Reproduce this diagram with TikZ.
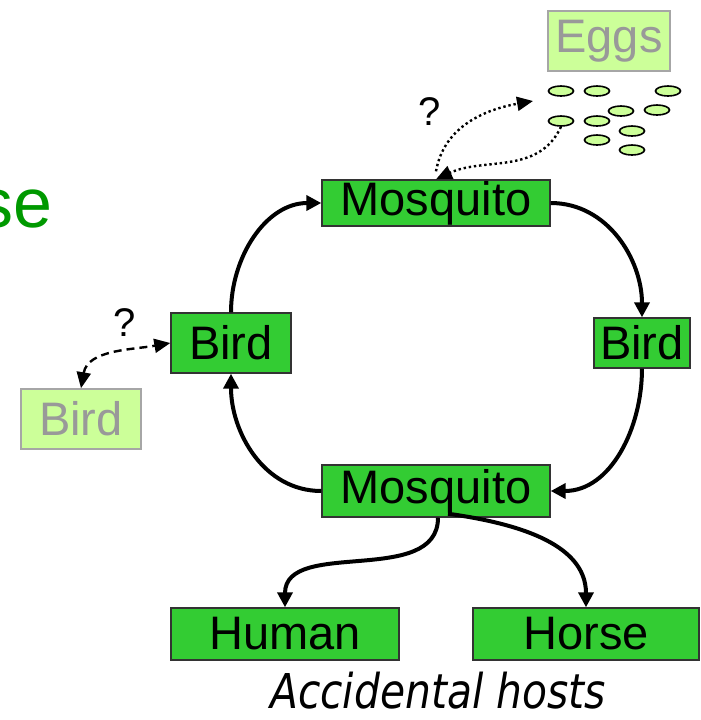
\documentclass[tikz,border=0pt]{standalone}
\usepackage{fontspec}
\setmainfont{Liberation Sans}
\newfontfamily\hostfont{DejaVu Sans}
\usepackage{tikz}
\usetikzlibrary{arrows.meta}
\usetikzlibrary{shapes.geometric}
\definecolor{hostgreen}{RGB}{51,204,51}
\definecolor{palegreen}{RGB}{204,255,153}
\definecolor{titlegreen}{RGB}{0,153,0}
\tikzstyle{host}=[draw=black!80,fill=hostgreen,line width=0.7pt,inner sep=0pt,font=\fontsize{23.5}{28}\selectfont]
\tikzstyle{ghost}=[draw=black!35,fill=palegreen,line width=0.8pt,inner sep=0pt,text=black!40,font=\fontsize{23.5}{28}\selectfont]
\tikzstyle{egg}=[draw=black,fill=palegreen,line width=0.8pt,ellipse,inner sep=0pt,minimum width=12.5pt,minimum height=5pt]
\tikzstyle{cycle}=[line width=2pt,-{Triangle[length=7.5pt,width=7.5pt]}]
\tikzstyle{maybe}=[line width=1.2pt,-{Triangle[length=8pt,width=7pt]}]

\begin{document}
\begin{tikzpicture}[x=0.5pt,y=-0.5pt]
  \useasboundingbox (0,0) rectangle (701,720);
  % title remnant
  \node[text=titlegreen,anchor=base east,inner sep=0pt,font=\fontsize{35}{40}\selectfont] (title) at (53,227) {se};
  % hosts of the cycle
  \node[host,minimum width=114pt,minimum height=23pt] (mosqT) at (436,203) {Mosquito};
  \node[host,minimum width=48pt,minimum height=25pt] (birdR) at (642,343) {Bird};
  \node[host,minimum width=60pt,minimum height=30pt] (birdL) at (231,343) {Bird};
  \node[host,minimum width=114pt,minimum height=26pt] (mosqB) at (436,491) {Mosquito};
  \node[host,minimum width=114pt,minimum height=26pt] (human) at (285,634) {Human};
  \node[host,minimum width=113pt,minimum height=26pt] (horse) at (586,634) {Horse};
  \node[ghost,minimum width=60pt,minimum height=30pt] (birdG) at (81,419) {Bird};
  \node[ghost,minimum width=61pt,minimum height=30pt] (eggs) at (609,41) {Eggs};
  % egg cluster
  \foreach \n/\x/\y in {1/561/91,2/597/91,3/668/91,4/621/111,5/657/110,6/561/121,7/597/121,8/632/131,9/597/140,10/632/150}{
    \node[egg] (e\n) at (\x,\y) {};
  }
  \node[font=\fontsize{20}{24}\selectfont,inner sep=0pt] (qE) at (430,112) {?};
  \node[font=\fontsize{20}{24}\selectfont,inner sep=0pt] (qB) at (125,323) {?};
  \coordinate (eggto) at (533,101);
  % cycle
  \draw[cycle] (birdL.north) to[out=90,in=180] (mosqT.west);
  \draw[cycle] (mosqT.east) to[out=0,in=90] (birdR.north);
  \draw[cycle] (birdR.south) to[out=-90,in=0] (mosqB.east);
  \draw[cycle] (mosqB.west) to[out=180,in=-90] (birdL.south);
  % accidental hosts
  \draw[cycle] ([xshift=1pt]mosqB.south) to[out=-90,in=90] (human.north);
  \draw[cycle] ([xshift=6pt,yshift=2pt]mosqB.south) to[out=-8,in=90] (horse.north);
  \node[font=\hostfont\itshape\fontsize{24}{28}\selectfont,xscale=0.85,inner sep=0pt,anchor=base] (acc) at (438,708) {Accidental hosts};
  % unknown links
  \draw[maybe,dash pattern=on 1.2pt off 1.4pt] ([yshift=4pt]mosqT.north) to[out=80,in=190] (eggto);
  \draw[maybe,dash pattern=on 1.2pt off 1.4pt] (e6.south) to[out=-115,in=25] (mosqT.north);
  \draw[maybe,dash pattern=on 4pt off 2.5pt,{Triangle[length=8pt,width=7pt]}-{Triangle[length=8pt,width=7pt]}] (birdG.north) to[out=80,in=190] (birdL.west);
\end{tikzpicture}
\end{document}
